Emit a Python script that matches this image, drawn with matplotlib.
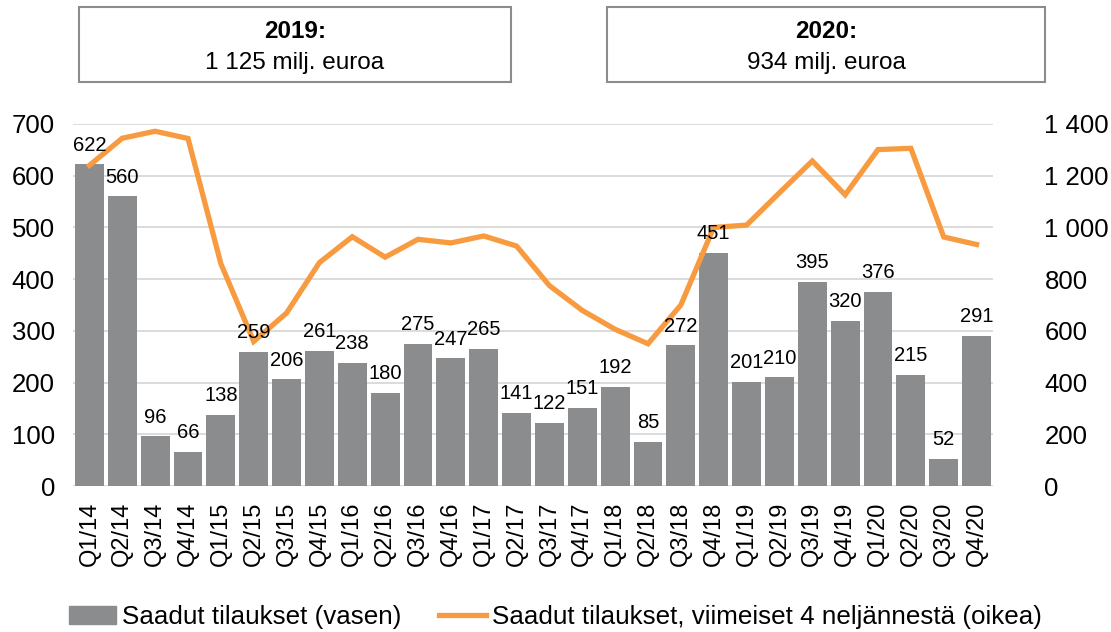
import matplotlib.pyplot as plt
from matplotlib.patches import Rectangle, Patch
from matplotlib.lines import Line2D
from matplotlib.ticker import FuncFormatter

plt.rcParams['font.family'] = ['Liberation Sans', 'DejaVu Sans']

quarters = ['Q1/14', 'Q2/14', 'Q3/14', 'Q4/14', 'Q1/15', 'Q2/15', 'Q3/15', 'Q4/15',
            'Q1/16', 'Q2/16', 'Q3/16', 'Q4/16', 'Q1/17', 'Q2/17', 'Q3/17', 'Q4/17',
            'Q1/18', 'Q2/18', 'Q3/18', 'Q4/18', 'Q1/19', 'Q2/19', 'Q3/19', 'Q4/19',
            'Q1/20', 'Q2/20', 'Q3/20', 'Q4/20']
orders = [622, 560, 96, 66, 138, 259, 206, 261, 238, 180, 275, 247, 265, 141,
          122, 151, 192, 85, 272, 451, 201, 210, 395, 320, 376, 215, 52, 291]
rolling = [1240, 1345, 1372, 1344, 860, 559, 669, 864, 964, 885, 954, 940, 967, 928,
           775, 679, 606, 550, 700, 1000, 1009, 1134, 1257, 1126, 1301, 1306, 963, 934]
box_years = ['2019:', '2020:']
box_values = ['1 125 milj. euroa', '934 milj. euroa']

BAR = '#8B8C8E'
ORANGE = '#F89B40'
GRID = '#D9D9D9'

fig = plt.figure(figsize=(11.11, 6.32), dpi=100)
ax = fig.add_axes([73 / 1111, 1 - 486 / 632, 920 / 1111, 362 / 632])
ax2 = ax.twinx()

x = list(range(len(quarters)))
ax.bar(x, orders, width=0.88, color=BAR, zorder=2)
ax2.plot(x, rolling, color=ORANGE, lw=3.8, solid_joinstyle='miter', zorder=3)

ax.set_xlim(-0.5, len(quarters) - 0.5)
ax.set_ylim(0, 700)
ax.set_yticks(range(0, 701, 100))
ax2.set_ylim(0, 1400)
ax2.set_yticks(range(0, 1401, 200))
ax2.yaxis.set_major_formatter(FuncFormatter(lambda v, p: f'{int(v):,}'.replace(',', ' ')))

ax.grid(axis='y', color=GRID, lw=1.3, zorder=0)
ax.set_axisbelow(True)
for a in (ax, ax2):
    for s in a.spines.values():
        s.set_visible(False)
ax.axhline(0, color=GRID, lw=2, zorder=1)

ax.set_xticks(x)
ax.set_xticklabels(quarters, rotation=90, fontsize=17)
ax.tick_params(axis='x', length=0, pad=11)
ax.tick_params(axis='y', length=0, pad=13, labelsize=18.5)
ax2.tick_params(axis='y', length=0, pad=37, labelsize=18.5)

for i, v in enumerate(orders):
    ax2.annotate(str(v), xy=(i, v), xycoords=ax.transData, xytext=(0, 7),
                 textcoords='offset points', ha='center', va='bottom',
                 fontsize=14.5, zorder=5)

# year boxes
for (x0, x1), yr, val in zip([(79, 511), (607, 1045)], box_years, box_values):
    fig.add_artist(Rectangle((x0 / 1111, 1 - 82 / 632), (x1 - x0) / 1111, 75 / 632,
                             transform=fig.transFigure, fill=False,
                             edgecolor='#8C8C8C', lw=1.5))
    cx = (x0 + x1) / 2 / 1111
    fig.text(cx, 1 - 31 / 632, yr, ha='center', va='center', fontsize=17.5,
             fontweight='bold')
    fig.text(cx, 1 - 63 / 632, val, ha='center', va='center', fontsize=17.5)

handles = [Patch(color=BAR), Line2D([0], [0], color=ORANGE, lw=3.8)]
labels = ['Saadut tilaukset (vasen)', 'Saadut tilaukset, viimeiset 4 neljännestä (oikea)']
fig.legend(handles, labels, loc='center', bbox_to_anchor=(0.5, 1 - 617 / 632), ncol=2,
           frameon=False, fontsize=18.7, handlelength=1.8, handletextpad=0.23,
           columnspacing=1.46, borderpad=0, borderaxespad=0)

fig.savefig('out.png', dpi=100)
